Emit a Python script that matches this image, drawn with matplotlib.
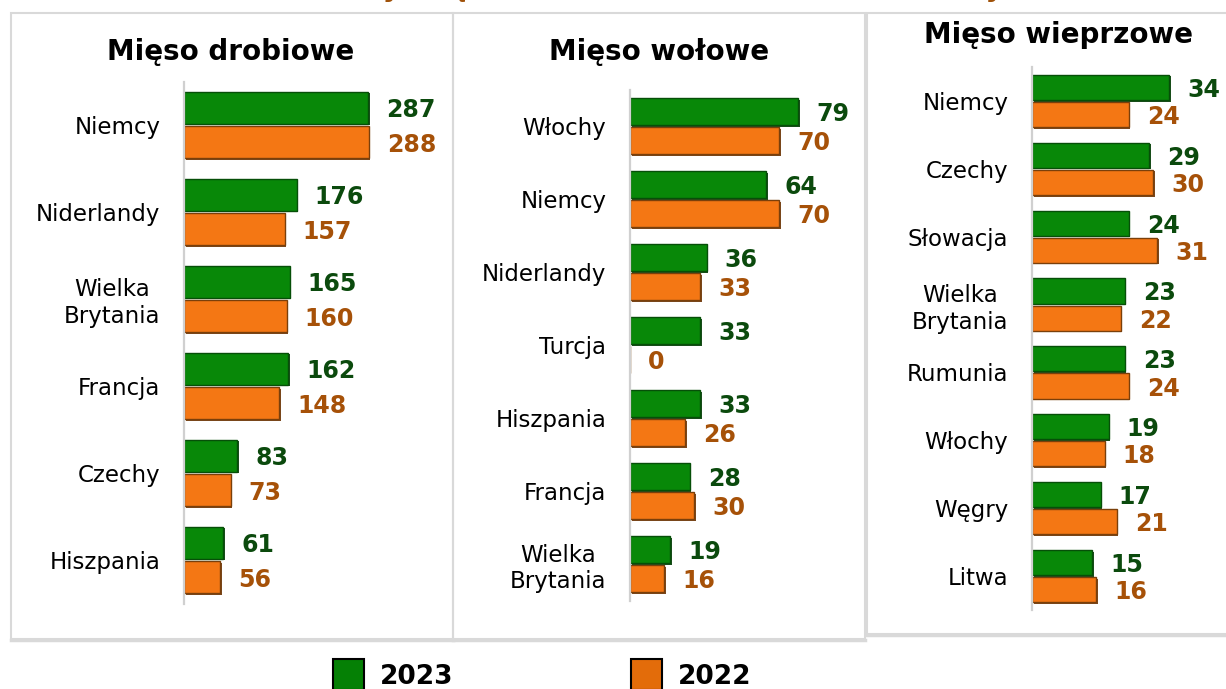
import matplotlib
matplotlib.use("Agg")
import matplotlib.pyplot as plt
from matplotlib.patches import Rectangle
import matplotlib.patheffects as pe
import numpy as np

plt.rcParams['font.family'] = ['DejaVu Sans']

# ---------------- data ----------------
title_main = "Główni odbiorcy mięsa z Polski w latach 2022-2023 (tys. ton)"

poultry_title = "Mięso drobiowe"
poultry_cats = ["Niemcy", "Niderlandy", "Wielka\nBrytania", "Francja", "Czechy", "Hiszpania"]
poultry_2023 = [287, 176, 165, 162, 83, 61]
poultry_2022 = [288, 157, 160, 148, 73, 56]

beef_title = "Mięso wołowe"
beef_cats = ["Włochy", "Niemcy", "Niderlandy", "Turcja", "Hiszpania", "Francja", "Wielka\nBrytania"]
beef_2023 = [79, 64, 36, 33, 33, 28, 19]
beef_2022 = [70, 70, 33, 0, 26, 30, 16]

pork_title = "Mięso wieprzowe"
pork_cats = ["Niemcy", "Czechy", "Słowacja", "Wielka\nBrytania", "Rumunia", "Włochy", "Węgry", "Litwa"]
pork_2023 = [34, 29, 24, 23, 23, 19, 17, 15]
pork_2022 = [24, 30, 31, 22, 24, 18, 21, 16]

legend_labels = ["2023", "2022"]

# ---------------- style ----------------
W, H = 1226, 689
GREEN = "#088808"
GREEN_EDGE = "#064f08"
ORANGE = "#f47714"
ORANGE_EDGE = "#7a3f0a"
GREEN_TXT = "#0b4a0d"
ORANGE_TXT = "#a65108"
BORDER = "#d9d9d9"

fig = plt.figure(figsize=(W / 100, H / 100), dpi=100)


def fx(x):
    return x / W


def fy(y):
    return 1 - y / H


def add_panel(left, right, top, bottom, xmax, cats, v23, v22):
    ax = fig.add_axes([fx(left), fy(bottom), fx(right - left), (bottom - top) / H])
    n = len(cats)
    y = np.arange(n)
    shadow_g = [pe.SimplePatchShadow(offset=(1.2, -1.2), shadow_rgbFace="#033a05", alpha=0.9), pe.Normal()]
    shadow_o = [pe.SimplePatchShadow(offset=(1.2, -1.2), shadow_rgbFace="#6a3405", alpha=0.9), pe.Normal()]
    b1 = ax.barh(y - 0.2, v23, height=0.37, color=GREEN, edgecolor=GREEN_EDGE, linewidth=1.0)
    b2 = ax.barh(y + 0.2, v22, height=0.37, color=ORANGE, edgecolor=ORANGE_EDGE, linewidth=1.0)
    for bar, v in zip(b1, v23):
        if v > 0:
            bar.set_path_effects(shadow_g)
    for bar, v in zip(b2, v22):
        if v > 0:
            bar.set_path_effects(shadow_o)
    for yi, v in zip(y, v23):
        ax.annotate(str(v), xy=(v, yi - 0.2), xytext=(13, 0), textcoords="offset points",
                    ha="left", va="center_baseline", fontsize=17, fontweight="bold", color=GREEN_TXT)
    for yi, v in zip(y, v22):
        ax.annotate(str(v), xy=(v, yi + 0.2), xytext=(13, 0), textcoords="offset points",
                    ha="left", va="center_baseline", fontsize=17, fontweight="bold", color=ORANGE_TXT)
    ax.set_xlim(0, xmax)
    ax.set_ylim(n - 0.5, -0.5)
    ax.set_yticks(y)
    ax.set_yticklabels(cats, fontsize=16.5, multialignment="center")
    ax.tick_params(axis="y", length=0, pad=17)
    ax.set_xticks([])
    for s in ["top", "right", "bottom"]:
        ax.spines[s].set_visible(False)
    ax.spines["left"].set_color("#d0d0d0")
    ax.spines["left"].set_linewidth(1.6)
    ax.patch.set_alpha(0)
    return ax


# panel frames
def frame(x0, y0, x1, y1):
    fig.add_artist(Rectangle((fx(x0), fy(y1)), fx(x1 - x0), (y1 - y0) / H, transform=fig.transFigure,
                             facecolor="none", edgecolor=BORDER, linewidth=1.5))
    fig.add_artist(plt.Line2D([fx(x0), fx(x1)], [fy(y1 + 1), fy(y1 + 1)], transform=fig.transFigure,
                              color=BORDER, linewidth=2.5))


frame(11, 13, 453, 639)
frame(453, 13, 865, 639)
frame(867, 13, 1232, 634)

add_panel(184, 445, 81.5, 603.5, 261 / 0.641, poultry_cats, poultry_2023, poultry_2022)
add_panel(630, 860, 89.5, 600.5, 230 / 2.13, beef_cats, beef_2023, beef_2022)
add_panel(1032, 1222, 67, 610, 190 / 4.03, pork_cats, pork_2023, pork_2022)

# panel titles
fig.text(fx(231), fy(52), poultry_title, ha="center", va="center", fontsize=20, fontweight="bold")
fig.text(fx(659), fy(52), beef_title, ha="center", va="center", fontsize=20, fontweight="bold")
fig.text(fx(1058), fy(35), pork_title, ha="center", va="center", fontsize=20, fontweight="bold")

# main title (mostly cut off at the top, as in the reference)
fig.text(fx(1105), fy(-4), title_main, ha="right", va="baseline", fontsize=20,
         fontweight="bold", color="#a0520a")

# legend
for x0, col, lab, tx in [(333, "#058005", legend_labels[0], 380), (631, "#e36c0a", legend_labels[1], 678)]:
    fig.add_artist(Rectangle((fx(x0), fy(690)), fx(31), 31 / H, transform=fig.transFigure,
                             facecolor=col, edgecolor="black", linewidth=1.5))
    fig.text(fx(tx), fy(677), lab, ha="left", va="center", fontsize=19, fontweight="bold")

fig.savefig("out.png", dpi=100)
